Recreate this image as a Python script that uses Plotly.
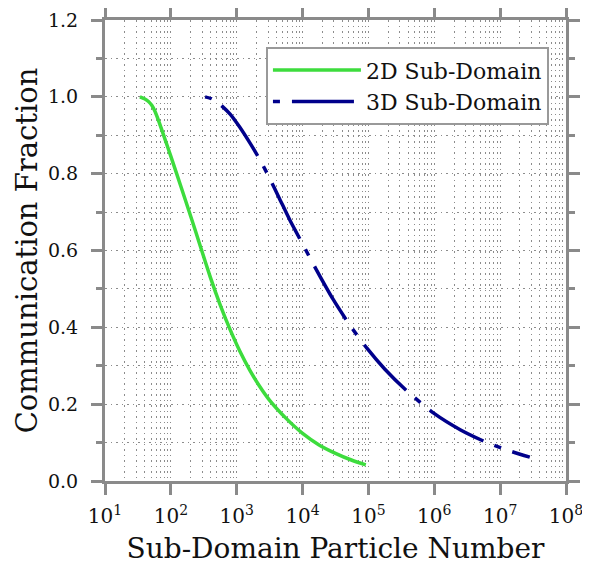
import plotly.graph_objects as go

# Data (x given as log10 of particle number, y = communication fraction)
x2d_log = [1.53, 1.60, 1.66, 1.71, 1.76, 1.82, 1.90, 2.00, 2.15, 2.30, 2.45, 2.60,
           2.75, 2.90, 3.05, 3.20, 3.35, 3.50, 3.75, 4.00, 4.25, 4.50, 4.75, 4.96]
y2d = [1.000, 0.995, 0.988, 0.978, 0.962, 0.935, 0.895, 0.845, 0.768, 0.690, 0.610, 0.530,
       0.458, 0.394, 0.337, 0.288, 0.246, 0.210, 0.163, 0.124, 0.094, 0.072, 0.054, 0.042]

x3d_log = [2.52, 2.62, 2.75, 2.90, 3.05, 3.20, 3.35, 3.50, 3.65, 3.81, 4.00, 4.20,
           4.46, 4.72, 4.98, 5.25, 5.58, 5.98, 6.40, 6.80, 7.15, 7.45]
y3d = [1.000, 0.995, 0.980, 0.955, 0.920, 0.880, 0.837, 0.788, 0.735, 0.678, 0.617, 0.553,
       0.474, 0.405, 0.345, 0.291, 0.235, 0.178, 0.133, 0.100, 0.078, 0.062]

x_tick_exps = [1, 2, 3, 4, 5, 6, 7, 8]
y_tick_vals = [0.0, 0.2, 0.4, 0.6, 0.8, 1.0, 1.2]

x2d = [10 ** v for v in x2d_log]
x3d = [10 ** v for v in x3d_log]

FONT = "DejaVu Serif"
AX = "#8a8a8a"
GRID = "#8c8c8c"
GDASH = "1.5px,4px"

fig = go.Figure()
fig.add_trace(go.Scatter(x=x2d, y=y2d, mode="lines", name="2D Sub-Domain", legendgroup="a",
                         line=dict(color="#3ddc3d", width=3.5, shape="spline", smoothing=0.6)))
fig.add_trace(go.Scatter(x=x3d, y=y3d, mode="lines", name="3D Sub-Domain", legendgroup="b",
                         line=dict(color="#00008b", width=3.5, shape="spline", smoothing=0.6,
                                   dash="7px,12px,62px,12px")))

# the page body adds an 8px margin, so the figure is sized/offset to compensate
fig.update_layout(
    width=582, height=557,
    margin=dict(l=97, r=24, t=12, b=84),
    paper_bgcolor="white", plot_bgcolor="white",
    font=dict(family=FONT, color="#111111"),
    legend=dict(x=0.963, y=0.941, xanchor="right", yanchor="top",
                bgcolor="white", bordercolor="#999999", borderwidth=2,
                font=dict(family=FONT, size=22), tracegroupgap=0, itemwidth=88),
    showlegend=True,
)

fig.update_xaxes(
    type="log", range=[1, 8], automargin=False,
    tickvals=[10 ** e for e in x_tick_exps],
    ticktext=["10<sup>%d</sup>" % e for e in x_tick_exps],
    tickfont=dict(family=FONT, size=20),
    ticks="outside", ticklen=11, tickwidth=3, tickcolor=AX, ticklabelstandoff=4,
    showline=True, linecolor=AX, linewidth=3, mirror="allticks",
    showgrid=True, gridcolor=GRID, griddash=GDASH, gridwidth=1,
    minor=dict(dtick="D1", showgrid=True, gridcolor=GRID, griddash=GDASH,
               gridwidth=1, ticks=""),
    title=dict(text="Sub-Domain Particle Number", font=dict(family=FONT, size=28),
               standoff=14),
    zeroline=False,
)

fig.update_yaxes(
    range=[0, 1.2], automargin=False,
    tickvals=y_tick_vals,
    ticktext=["%.1f" % v for v in y_tick_vals],
    tickfont=dict(family=FONT, size=19),
    ticks="outside", ticklen=11, tickwidth=3, tickcolor=AX, ticklabelstandoff=9,
    showline=True, linecolor=AX, linewidth=3, mirror="allticks",
    showgrid=True, gridcolor=GRID, griddash=GDASH, gridwidth=1,
    minor=dict(dtick=0.1, showgrid=True, gridcolor=GRID, griddash=GDASH,
               gridwidth=1, ticks="outside", ticklen=6, tickwidth=3, tickcolor=AX),
    title=dict(text="Communication Fraction", font=dict(family=FONT, size=29),
               standoff=2),
    zeroline=False,
)

fig.write_html("out.html")
